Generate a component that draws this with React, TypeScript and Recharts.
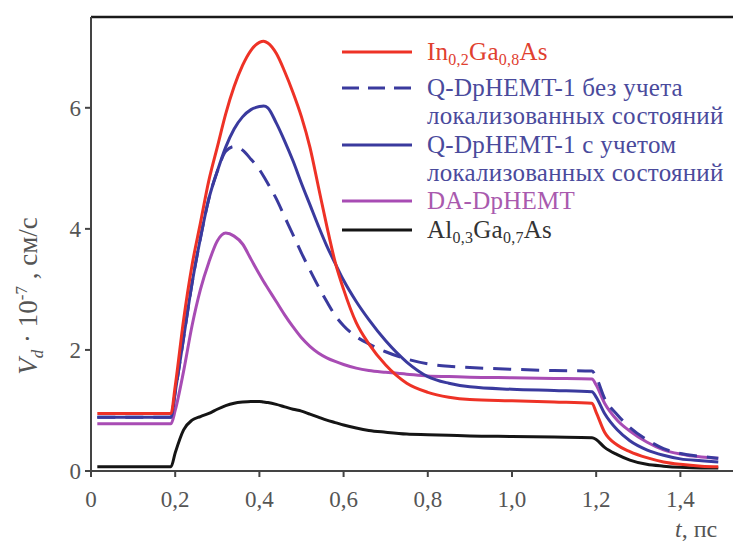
import React from "react";
import { LineChart, Line, XAxis, YAxis, ReferenceLine } from "recharts";

// time, ps
const tPs = [
  0.015, 0.19, 0.2, 0.22, 0.24, 0.26, 0.28, 0.3, 0.32, 0.34, 0.36, 0.38, 0.4, 0.41, 0.42,
  0.44, 0.46, 0.48, 0.5, 0.52, 0.54, 0.56, 0.58, 0.6, 0.63, 0.66, 0.7, 0.75, 0.8, 0.85,
  0.9, 1.0, 1.1, 1.19, 1.2, 1.22, 1.25, 1.28, 1.32, 1.36, 1.4, 1.45, 1.49,
];

// drift velocity, 10^7 cm/s
const inGaAs = [
  0.95, 0.95, 1.4, 2.5, 3.4, 4.1, 4.8, 5.35, 5.9, 6.35, 6.7, 6.95, 7.08, 7.1, 7.07,
  6.9, 6.6, 6.25, 5.85, 5.35, 4.7, 4.05, 3.45, 3.0, 2.45, 2.1, 1.75, 1.45, 1.3, 1.22,
  1.18, 1.16, 1.14, 1.12, 0.97, 0.64, 0.43, 0.32, 0.22, 0.15, 0.11, 0.08, 0.07,
];
const qDpNoLoc = [
  0.89, 0.89, 1.3, 2.2, 3.1, 3.85, 4.5, 4.95, 5.28, 5.36, 5.3, 5.15, 4.98, 4.87, 4.75,
  4.5, 4.2, 3.9, 3.6, 3.32, 3.05, 2.8, 2.57, 2.4, 2.22, 2.1, 1.97, 1.85, 1.77, 1.73,
  1.71, 1.68, 1.66, 1.65, 1.55, 1.2, 0.93, 0.72, 0.52, 0.37, 0.29, 0.24, 0.21,
];
const qDpLoc = [
  0.89, 0.89, 1.3, 2.2, 3.1, 3.85, 4.5, 4.95, 5.35, 5.65, 5.85, 5.97, 6.02, 6.03, 6.0,
  5.75, 5.45, 5.12, 4.75, 4.4, 4.05, 3.72, 3.43, 3.15, 2.8, 2.5, 2.15, 1.8, 1.56, 1.45,
  1.39, 1.35, 1.33, 1.31, 1.22, 0.95, 0.68, 0.5, 0.35, 0.26, 0.2, 0.17, 0.15,
];
const daDp = [
  0.78, 0.78, 1.0, 1.65, 2.4, 3.0, 3.45, 3.8, 3.93, 3.88, 3.75, 3.5, 3.25, 3.13, 3.02,
  2.8, 2.58, 2.38, 2.2, 2.06, 1.95, 1.87, 1.81, 1.76, 1.7, 1.66, 1.63, 1.6, 1.57, 1.56,
  1.55, 1.54, 1.53, 1.52, 1.42, 1.12, 0.84, 0.66, 0.48, 0.35, 0.28, 0.23, 0.21,
];
const alGaAs = [
  0.07, 0.07, 0.3, 0.68, 0.84, 0.9, 0.95, 1.02, 1.08, 1.12, 1.14, 1.15, 1.15, 1.14, 1.13,
  1.1, 1.06, 1.02, 0.99, 0.94, 0.89, 0.84, 0.8, 0.76, 0.71, 0.67, 0.64, 0.61, 0.6, 0.59,
  0.58, 0.57, 0.56, 0.55, 0.52, 0.39, 0.27, 0.18, 0.11, 0.08, 0.06, 0.05, 0.05,
];

const xTicks = [0, 0.2, 0.4, 0.6, 0.8, 1.0, 1.2, 1.4];
const yTicks = [0, 2, 4, 6];

type Part = { text: string; sub?: boolean };
type Series = {
  key: string;
  values: number[];
  color: string;
  textColor: string;
  dash?: string;
  label: Part[][];
};

const series: Series[] = [
  {
    key: "inGaAs",
    values: inGaAs,
    color: "#ee3226",
    textColor: "#e0402f",
    label: [[{ text: "In" }, { text: "0,2", sub: true }, { text: "Ga" }, { text: "0,8", sub: true }, { text: "As" }]],
  },
  {
    key: "qDpNoLoc",
    values: qDpNoLoc,
    color: "#3a3a9e",
    textColor: "#4a4a9c",
    dash: "18 10",
    label: [[{ text: "Q-DpHEMT-1 без учета" }], [{ text: "локализованных состояний" }]],
  },
  {
    key: "qDpLoc",
    values: qDpLoc,
    color: "#3a3a9e",
    textColor: "#4a4a9c",
    label: [[{ text: "Q-DpHEMT-1 с учетом" }], [{ text: "локализованных состояний" }]],
  },
  {
    key: "daDp",
    values: daDp,
    color: "#a84cb4",
    textColor: "#a95aae",
    label: [[{ text: "DA-DpHEMT" }]],
  },
  {
    key: "alGaAs",
    values: alGaAs,
    color: "#151515",
    textColor: "#333333",
    label: [[{ text: "Al" }, { text: "0,3", sub: true }, { text: "Ga" }, { text: "0,7", sub: true }, { text: "As" }]],
  },
];

const rows = tPs.map((t, i) => {
  const row: Record<string, number> = { t };
  series.forEach((s) => {
    row[s.key] = s.values[i];
  });
  return row;
});

const drawOrder = ["alGaAs", "daDp", "qDpNoLoc", "qDpLoc", "inGaAs"];

const SERIF = "'Liberation Serif', 'DejaVu Serif', serif";
const fmt = (v: number) => (v === 0 ? "0" : v.toFixed(1).replace(".", ","));

const LINE_H = 28;
const legendTops = [38, 74, 131, 187, 216];

function LegendBlock() {
  return (
    <div style={{ position: "absolute", left: 341, top: 0, fontFamily: SERIF, fontSize: 25, letterSpacing: 0.25 }}>
      {series.map((s, i) => (
        <div key={s.key} style={{ position: "absolute", top: legendTops[i], left: 0, whiteSpace: "nowrap" }}>
          <svg width={72} height={LINE_H} style={{ position: "absolute", left: 0, top: 0 }}>
            <line
              x1={1}
              y1={LINE_H / 2}
              x2={71}
              y2={LINE_H / 2}
              stroke={s.color}
              strokeWidth={3.2}
              strokeDasharray={s.dash ? "17 9" : undefined}
            />
          </svg>
          <div style={{ marginLeft: 86, color: s.textColor, lineHeight: `${LINE_H}px` }}>
            {s.label.map((line, li) => (
              <div key={li}>
                {line.map((p, pi) =>
                  p.sub ? (
                    <span key={pi} style={{ fontSize: 16, position: "relative", top: 5 }}>{p.text}</span>
                  ) : (
                    <span key={pi}>{p.text}</span>
                  )
                )}
              </div>
            ))}
          </div>
        </div>
      ))}
    </div>
  );
}

export default function App() {
  const ordered = drawOrder.map((k) => series.find((s) => s.key === k)!);
  return (
    <div style={{ position: "absolute", left: 0, top: 0, width: 735, height: 543, background: "#fff", overflow: "hidden" }}>
      <LineChart width={735} height={543} data={rows} margin={{ top: 17, right: 2, bottom: 32, left: 31 }}>
        <XAxis
          dataKey="t"
          type="number"
          domain={[0, 1.525]}
          ticks={xTicks}
          tickFormatter={fmt}
          allowDataOverflow
          height={40}
          stroke="#444"
          strokeWidth={2}
          tickSize={6}
          tickMargin={14}
          tick={{ fill: "#555", fontSize: 23, fontFamily: SERIF }}
        />
        <YAxis
          type="number"
          domain={[0, 7.5]}
          ticks={yTicks}
          allowDataOverflow
          width={60}
          stroke="#444"
          strokeWidth={2}
          tickSize={6}
          tickMargin={4}
          tick={{ fill: "#555", fontSize: 23, fontFamily: SERIF }}
        />
        <ReferenceLine y={7.5} stroke="#1a1a1a" strokeWidth={2.5} />
        {ordered.map((s) => (
          <Line
            key={s.key}
            dataKey={s.key}
            type="monotone"
            stroke={s.color}
            strokeWidth={3}
            strokeDasharray={s.dash}
            dot={false}
            isAnimationActive={false}
          />
        ))}
      </LineChart>
      <LegendBlock />
      <div
        style={{
          position: "absolute",
          left: 30,
          top: 296,
          transform: "translate(-50%, -50%) rotate(-90deg)",
          fontFamily: SERIF,
          fontSize: 27,
          color: "#555",
          whiteSpace: "nowrap",
        }}
      >
        <i>V</i>
        <sub style={{ fontSize: 17, fontStyle: "italic" }}>d</sub>
        <span> · 10</span>
        <sup style={{ fontSize: 17 }}>-7</sup>
        <span> , см/с</span>
      </div>
      <div
        style={{
          position: "absolute",
          left: 675,
          top: 516,
          fontFamily: SERIF,
          fontSize: 24,
          color: "#555",
          whiteSpace: "nowrap",
        }}
      >
        <i>t</i>, пс
      </div>
    </div>
  );
}
